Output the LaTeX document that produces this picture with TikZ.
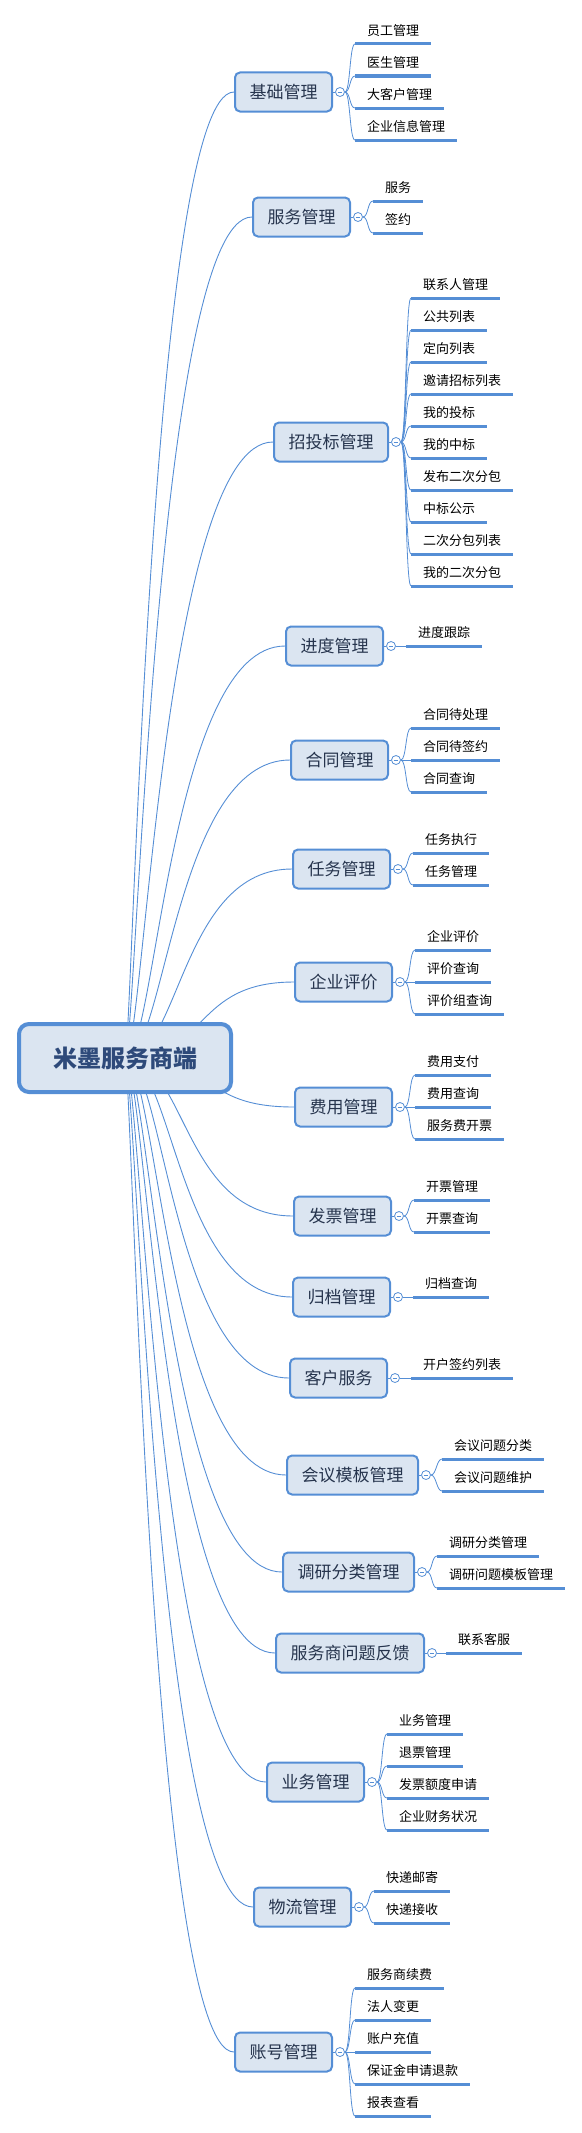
\documentclass[tikz,border=0pt]{standalone}
\usepackage{fontspec}
\usetikzlibrary{backgrounds}
\newfontfamily\cjk{Noto Sans CJK SC}
\definecolor{mapblue}{HTML}{558ED5}
\definecolor{mapfill}{HTML}{DBE5F1}
\definecolor{rootink}{HTML}{2E4A7A}
\definecolor{topicink}{HTML}{26344D}
\tikzset{
  root/.style={draw=mapblue, line width=4pt, rounded corners=10pt, fill=mapfill,
    minimum width=212pt, minimum height=68pt, text=rootink,
    font=\cjk\bfseries\fontsize{24}{28}\selectfont},
  topic/.style={draw=mapblue, line width=2pt, rounded corners=5pt, fill=mapfill,
    anchor=west, inner xsep=14.5pt, minimum height=39pt, text=topicink,
    font=\cjk\fontsize{17}{20}\selectfont},
  fold/.style={circle, draw=mapblue, fill=white, line width=.8pt, minimum size=9pt,
    inner sep=0pt, path picture={\draw[mapblue, line width=.8pt]
      ([xshift=-2.3pt]path picture bounding box.center) --
      ([xshift=2.3pt]path picture bounding box.center);}},
  leaf/.style={anchor=south west, inner xsep=12pt, inner ysep=7pt,
    font=\cjk\fontsize{13}{16}\selectfont,
    append after command={(\tikzlastnode.south west) edge[leafline] (\tikzlastnode.south east)}},
  leafline/.style={draw=mapblue, line width=3pt},
  branch/.style={draw=mapblue, line width=.9pt, out=0, in=180},
  twig/.style={draw=mapblue, line width=.8pt, out=0, in=180, out distance=5.5pt, in distance=5.5pt},
}
\begin{document}
\begin{tikzpicture}[x=1pt, y=-1pt]
      \useasboundingbox (0,0) rectangle (581,2133);
      % centre and main topics
      \node[root] (root) at (125,1058) {米墨服务商端};
      \node[topic] (jichu) at (234,92) {基础管理};
      \node[topic] (fuwu) at (252,217) {服务管理};
      \node[topic] (zhaotou) at (273,442) {招投标管理};
      \node[topic] (jindu) at (285,646) {进度管理};
      \node[topic] (hetong) at (290,760) {合同管理};
      \node[topic] (renwu) at (292,869) {任务管理};
      \node[topic] (pingjia) at (294,982) {企业评价};
      \node[topic] (feiyong) at (294,1107) {费用管理};
      \node[topic] (fapiao) at (293,1216) {发票管理};
      \node[topic] (guidang) at (292,1297) {归档管理};
      \node[topic] (kehu) at (289,1378) {客户服务};
      \node[topic] (huiyi) at (286,1475) {会议模板管理};
      \node[topic] (diaoyan) at (282,1572) {调研分类管理};
      \node[topic] (fankui) at (275,1653) {服务商问题反馈};
      \node[topic] (yewu) at (266,1782) {业务管理};
      \node[topic] (wuliu) at (253,1907) {物流管理};
      \node[topic] (zhanghao) at (234,2052) {账号管理};
      % fold marks
      \foreach \t in {jichu,fuwu,zhaotou,jindu,hetong,renwu,pingjia,feiyong,fapiao,
        guidang,kehu,huiyi,diaoyan,fankui,yewu,wuliu,zhanghao}
        \node[fold] (\t-f) at ([xshift=7pt]\t.east) {};
      % subtopics
      \node[leaf] (jichu-1) at (355,44) {员工管理};
      \node[leaf] (jichu-2) at (355,76) {医生管理};
      \node[leaf] (jichu-3) at (355,108) {大客户管理};
      \node[leaf] (jichu-4) at (355,140) {企业信息管理};
      \node[leaf] (fuwu-1) at (373,201) {服务};
      \node[leaf] (fuwu-2) at (373,233) {签约};
      \node[leaf] (zhaotou-1) at (411,298) {联系人管理};
      \node[leaf] (zhaotou-2) at (411,330) {公共列表};
      \node[leaf] (zhaotou-3) at (411,362) {定向列表};
      \node[leaf] (zhaotou-4) at (411,394) {邀请招标列表};
      \node[leaf] (zhaotou-5) at (411,426) {我的投标};
      \node[leaf] (zhaotou-6) at (411,458) {我的中标};
      \node[leaf] (zhaotou-7) at (411,490) {发布二次分包};
      \node[leaf] (zhaotou-8) at (411,522) {中标公示};
      \node[leaf] (zhaotou-9) at (411,554) {二次分包列表};
      \node[leaf] (zhaotou-10) at (411,586) {我的二次分包};
      \node[leaf] (jindu-1) at (406,646) {进度跟踪};
      \node[leaf] (hetong-1) at (411,728) {合同待处理};
      \node[leaf] (hetong-2) at (411,760) {合同待签约};
      \node[leaf] (hetong-3) at (411,792) {合同查询};
      \node[leaf] (renwu-1) at (413,853) {任务执行};
      \node[leaf] (renwu-2) at (413,885) {任务管理};
      \node[leaf] (pingjia-1) at (415,950) {企业评价};
      \node[leaf] (pingjia-2) at (415,982) {评价查询};
      \node[leaf] (pingjia-3) at (415,1014) {评价组查询};
      \node[leaf] (feiyong-1) at (415,1075) {费用支付};
      \node[leaf] (feiyong-2) at (415,1107) {费用查询};
      \node[leaf] (feiyong-3) at (415,1139) {服务费开票};
      \node[leaf] (fapiao-1) at (414,1200) {开票管理};
      \node[leaf] (fapiao-2) at (414,1232) {开票查询};
      \node[leaf] (guidang-1) at (413,1297) {归档查询};
      \node[leaf] (kehu-1) at (411,1378) {开户签约列表};
      \node[leaf] (huiyi-1) at (442,1459) {会议问题分类};
      \node[leaf] (huiyi-2) at (442,1491) {会议问题维护};
      \node[leaf] (diaoyan-1) at (437,1556) {调研分类管理};
      \node[leaf] (diaoyan-2) at (437,1588) {调研问题模板管理};
      \node[leaf] (fankui-1) at (446,1653) {联系客服};
      \node[leaf] (yewu-1) at (387,1734) {业务管理};
      \node[leaf] (yewu-2) at (387,1766) {退票管理};
      \node[leaf] (yewu-3) at (387,1798) {发票额度申请};
      \node[leaf] (yewu-4) at (387,1830) {企业财务状况};
      \node[leaf] (wuliu-1) at (374,1891) {快递邮寄};
      \node[leaf] (wuliu-2) at (374,1923) {快递接收};
      \node[leaf] (zhanghao-1) at (355,1988) {服务商续费};
      \node[leaf] (zhanghao-2) at (355,2020) {法人变更};
      \node[leaf] (zhanghao-3) at (355,2052) {账户充值};
      \node[leaf] (zhanghao-4) at (355,2084) {保证金申请退款};
      \node[leaf] (zhanghao-5) at (355,2116) {报表查看};
      \begin{scope}[on background layer]
        % main branches
        \draw[branch, out distance=7pt, in distance=84pt] (root.center) to (jichu.west);
        \draw[branch, out distance=11pt, in distance=97pt] (root.center) to (fuwu.west);
        \draw[branch, out distance=19pt, in distance=110pt] (root.center) to (zhaotou.west);
        \draw[branch, out distance=31pt, in distance=116pt] (root.center) to (jindu.west);
        \draw[branch, out distance=40pt, in distance=115pt] (root.center) to (hetong.west);
        \draw[branch, out distance=55pt, in distance=111pt] (root.center) to (renwu.west);
        \draw[branch, out distance=84pt, in distance=102pt] (root.center) to (pingjia.west);
        \draw[branch, out distance=95pt, in distance=97pt] (root.center) to (feiyong.west);
        \draw[branch, out distance=61pt, in distance=110pt] (root.center) to (fapiao.west);
        \draw[branch, out distance=48pt, in distance=114pt] (root.center) to (guidang.west);
        \draw[branch, out distance=38pt, in distance=115pt] (root.center) to (kehu.west);
        \draw[branch, out distance=31pt, in distance=117pt] (root.center) to (huiyi.west);
        \draw[branch, out distance=24pt, in distance=115pt] (root.center) to (diaoyan.west);
        \draw[branch, out distance=20pt, in distance=112pt] (root.center) to (fankui.west);
        \draw[branch, out distance=15pt, in distance=107pt] (root.center) to (yewu.west);
        \draw[branch, out distance=11pt, in distance=98pt] (root.center) to (wuliu.west);
        \draw[branch, out distance=7pt, in distance=84pt] (root.center) to (zhanghao.west);
        % topic to fold mark
        \foreach \t in {jichu,fuwu,zhaotou,jindu,hetong,renwu,pingjia,feiyong,fapiao,
          guidang,kehu,huiyi,diaoyan,fankui,yewu,wuliu,zhanghao}
          \draw[twig] (\t) -- (\t-f);
        % fold mark to subtopics
        \foreach \n in {1,...,4} \draw[twig] (jichu-f.east) to (jichu-\n.south west);
        \foreach \n in {1,2} \draw[twig] (fuwu-f.east) to (fuwu-\n.south west);
        \foreach \n in {1,...,10} \draw[twig] (zhaotou-f.east) to (zhaotou-\n.south west);
        \draw[twig] (jindu-f.east) to (jindu-1.south west);
        \foreach \n in {1,2,3} \draw[twig] (hetong-f.east) to (hetong-\n.south west);
        \foreach \n in {1,2} \draw[twig] (renwu-f.east) to (renwu-\n.south west);
        \foreach \n in {1,2,3} \draw[twig] (pingjia-f.east) to (pingjia-\n.south west);
        \foreach \n in {1,2,3} \draw[twig] (feiyong-f.east) to (feiyong-\n.south west);
        \foreach \n in {1,2} \draw[twig] (fapiao-f.east) to (fapiao-\n.south west);
        \draw[twig] (guidang-f.east) to (guidang-1.south west);
        \draw[twig] (kehu-f.east) to (kehu-1.south west);
        \foreach \n in {1,2} \draw[twig] (huiyi-f.east) to (huiyi-\n.south west);
        \foreach \n in {1,2} \draw[twig] (diaoyan-f.east) to (diaoyan-\n.south west);
        \draw[twig] (fankui-f.east) to (fankui-1.south west);
        \foreach \n in {1,...,4} \draw[twig] (yewu-f.east) to (yewu-\n.south west);
        \foreach \n in {1,2} \draw[twig] (wuliu-f.east) to (wuliu-\n.south west);
        \foreach \n in {1,...,5} \draw[twig] (zhanghao-f.east) to (zhanghao-\n.south west);
      \end{scope}
    \end{tikzpicture}
\end{document}
